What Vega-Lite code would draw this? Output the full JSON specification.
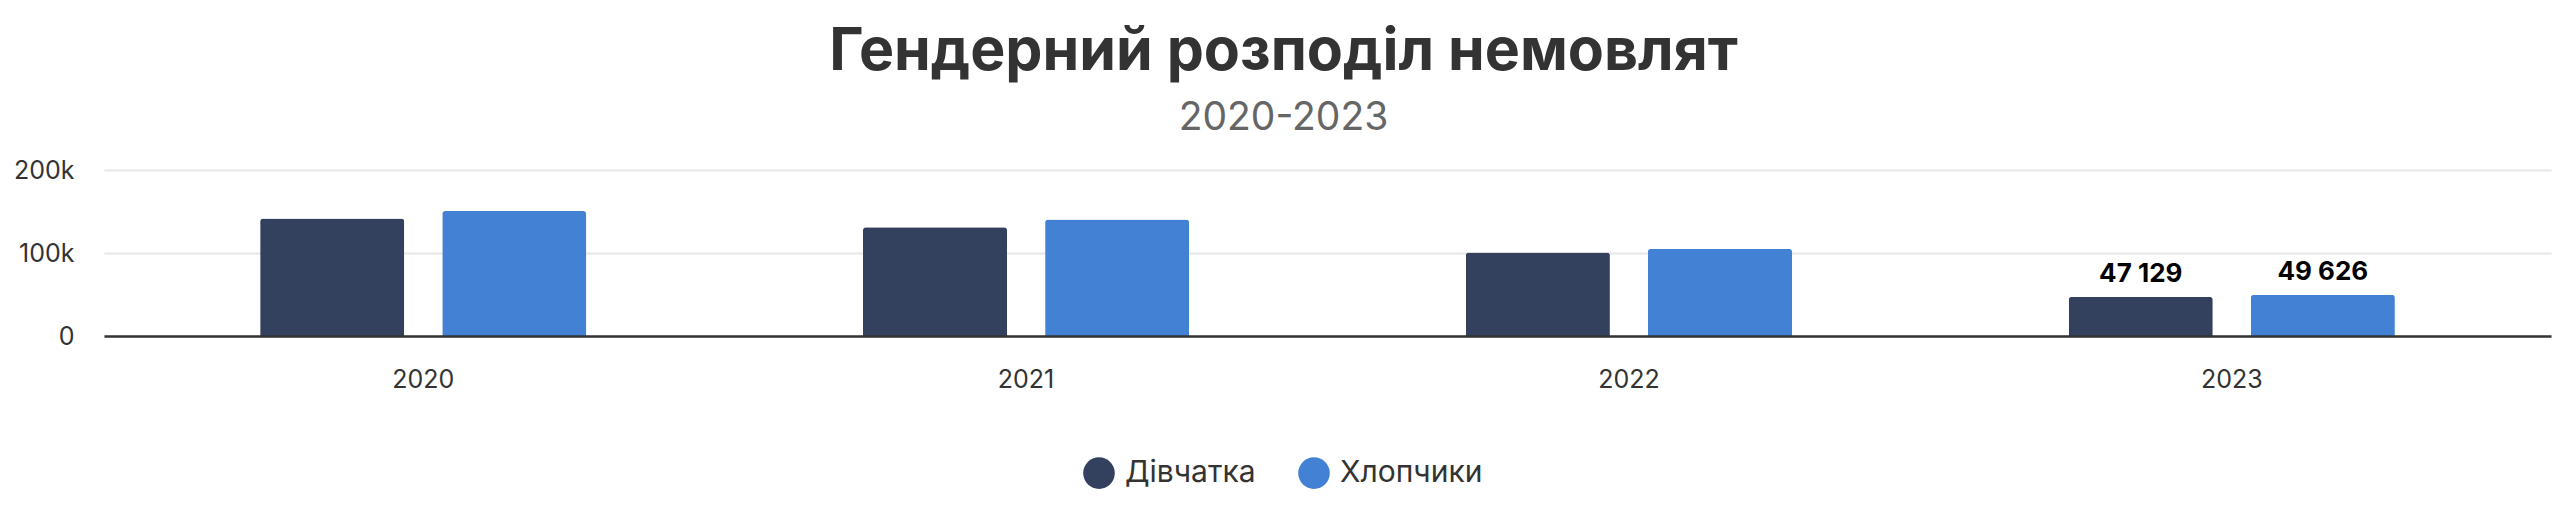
{
  "$schema": "https://vega.github.io/schema/vega-lite/v6.json",
  "autosize": {"type": "none"},
  "width": 2447,
  "height": 166,
  "padding": {"left": 104, "top": 170, "right": 19, "bottom": 188},
  "background": "#ffffff",
  "title": {
    "text": "Гендерний розподіл немовлят",
    "subtitle": "2020-2023",
    "anchor": "middle",
    "dx": -44,
    "offset": 20,
    "font": "Inter",
    "fontSize": 59,
    "fontWeight": "bold",
    "color": "#333333",
    "subtitleFont": "Inter",
    "subtitleFontSize": 39,
    "subtitleColor": "#666666",
    "subtitlePadding": 17
  },
  "data": {
    "values": [
      {"year": "2020", "gender": "Дівчатка", "births": 141500},
      {"year": "2020", "gender": "Хлопчики", "births": 150500},
      {"year": "2021", "gender": "Дівчатка", "births": 131000},
      {"year": "2021", "gender": "Хлопчики", "births": 140500},
      {"year": "2022", "gender": "Дівчатка", "births": 100500},
      {"year": "2022", "gender": "Хлопчики", "births": 105000},
      {"year": "2023", "gender": "Дівчатка", "births": 47129},
      {"year": "2023", "gender": "Хлопчики", "births": 49626}
    ]
  },
  "encoding": {
    "x": {
      "field": "year",
      "type": "nominal",
      "scale": {"paddingInner": 0.459, "paddingOuter": 0.259},
      "axis": {
        "title": null,
        "labelAngle": 0,
        "labelFont": "Inter",
        "labelFontSize": 25,
        "labelColor": "#333333",
        "labelPadding": 31,
        "ticks": false,
        "domain": true,
        "domainColor": "#333333",
        "domainWidth": 2.5,
        "zindex": 1
      }
    },
    "xOffset": {
      "field": "gender",
      "type": "nominal",
      "scale": {"paddingInner": 0.209, "paddingOuter": 0}
    },
    "y": {
      "field": "births",
      "type": "quantitative",
      "scale": {"domain": [0, 200000], "nice": false},
      "axis": {
        "title": null,
        "values": [0, 100000, 200000],
        "labelExpr": "datum.value == 0 ? '0' : format(datum.value / 1000, 'd') + 'k'",
        "labelFont": "Inter",
        "labelFontSize": 25,
        "labelColor": "#333333",
        "labelPadding": 30,
        "ticks": false,
        "domain": false,
        "grid": true,
        "gridColor": "#e6e6e6",
        "gridWidth": 2
      }
    }
  },
  "layer": [
    {
      "mark": {"type": "bar", "cornerRadiusTopLeft": 3, "cornerRadiusTopRight": 3},
      "encoding": {
        "color": {
          "field": "gender",
          "type": "nominal",
          "scale": {"domain": ["Дівчатка", "Хлопчики"], "range": ["#33415e", "#4381d5"]},
          "legend": {
            "title": null,
            "orient": "none",
            "direction": "horizontal",
            "legendX": 979,
            "legendY": 287,
            "symbolType": "circle",
            "symbolSize": 1000,
            "symbolStrokeWidth": 0,
            "symbolOpacity": 1,
            "labelFont": "Inter",
            "labelFontSize": 30,
            "labelColor": "#333333",
            "labelOffset": 10,
            "columnPadding": 42
          }
        }
      }
    },
    {
      "transform": [{"filter": "datum.year == '2023'"}],
      "mark": {
        "type": "text",
        "baseline": "alphabetic",
        "dy": -15,
        "font": "Inter",
        "fontSize": 26,
        "fontWeight": "bold",
        "color": "#000000"
      },
      "encoding": {
        "text": {"field": "births", "type": "quantitative", "format": ",d"}
      }
    }
  ],
  "config": {
    "view": {"stroke": null},
    "locale": {
      "number": {"decimal": ",", "thousands": " ", "grouping": [3], "currency": ["", ""]}
    }
  }
}
